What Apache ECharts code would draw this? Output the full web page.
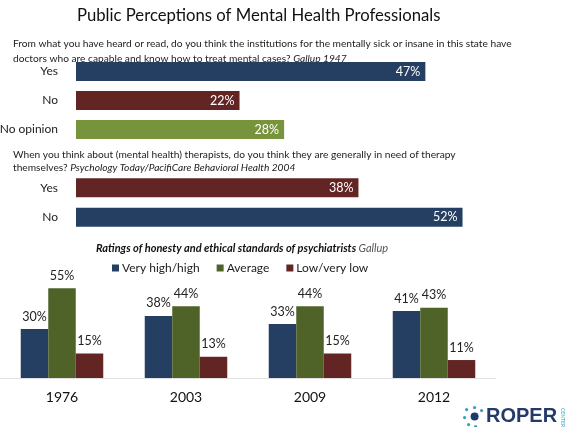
<!DOCTYPE html>
<html><head><meta charset="utf-8">
<script src="https://cdn.jsdelivr.net/npm/echarts@6/dist/echarts.min.js"></script>
<style>html,body{margin:0;padding:0;background:#fff}#c{width:570px;height:427px}</style>
</head><body><div id="c"></div>
<script>
const q1Categories = ['Yes', 'No', 'No opinion'];
const q1Values = [47, 22, 28];
const q2Categories = ['Yes', 'No'];
const q2Values = [38, 52];
const years = ['1976', '2003', '2009', '2012'];
const veryHigh = [30, 38, 33, 41];
const average = [55, 44, 44, 43];
const lowVeryLow = [15, 13, 15, 11];
const seriesNames = ['Very high/high', 'Average', 'Low/very low'];

const NAVY = '#253f63', RED = '#632523', LGREEN = '#77933c', DGREEN = '#4f6228';
const q1Colors = [NAVY, RED, LGREEN];
const q2Colors = [RED, NAVY];
const FONT = 'Lato';

const chart = echarts.init(document.getElementById('c'));
const pct = p => p.value + '%';
const hbarLabel = {show: true, position: 'insideRight', color: '#fff', fontSize: 12.5, fontFamily: FONT, formatter: pct, distance: 5};
const catAxis = (gi, data) => ({type: 'category', gridIndex: gi, data: data, inverse: true,
  axisLine: {show: false}, axisTick: {show: false},
  axisLabel: {fontSize: 12, fontFamily: FONT, color: '#222', margin: 18}});
const valAxis = gi => ({type: 'value', gridIndex: gi, min: 0, max: 60, show: false});
const sub = {a: {fontSize: 10.2, fontFamily: FONT, fill: '#222'}, i: {fontSize: 10.2, fontFamily: FONT, fontStyle: 'italic', fill: '#222'}};

chart.setOption({
  animation: false,
  textStyle: {fontFamily: FONT},
  title: {text: 'Public Perceptions of Mental Health Professionals', left: 77, top: 7, padding: 0,
    textStyle: {fontSize: 16.7, fontWeight: 'normal', color: '#111', fontFamily: FONT}},
  graphic: [
    {type: 'text', left: 13, top: 36, style: {rich: sub, lineHeight: 15,
      text: '{a|From what you have heard or read, do you think the institutions for the mentally sick or insane in this state have}\n{a|doctors who are capable and know how to treat mental cases? }{i|Gallup 1947}'}},
    {type: 'text', left: 13, top: 148, style: {rich: sub, lineHeight: 13,
      text: '{a|When you think about (mental health) therapists, do you think they are generally in need of therapy}\n{a|themselves? }{i|Psychology Today/PacifiCare Behavioral Health 2004}'}},
    {type: 'text', left: 96, top: 243, style: {rich: {b: {fontSize: 11, fontFamily: FONT, fontStyle: 'italic', fontWeight: 'bold', fill: '#111'}, g: {fontSize: 11, fontFamily: FONT, fontStyle: 'italic', fill: '#555'}},
      text: '{b|Ratings of honesty and ethical standards of psychiatrists }{g|Gallup}'}},
    {type: 'text', left: 486, top: 406, style: {text: 'ROPER', fontSize: 20, fontWeight: 'bold', fontFamily: 'Liberation Sans', fill: '#253a6b'}},
    {type: 'text', left: 560, top: 408, rotation: -Math.PI / 2, style: {text: 'CENTER', fontSize: 5, fontFamily: FONT, fill: '#3aa0b8'}},
    {type: 'group', left: 463, top: 406, children: [
      {type: 'circle', shape: {cx: 12, cy: 10, r: 4}, style: {fill: '#1d3a6b'}},
      {type: 'circle', shape: {cx: 4, cy: 3, r: 1.6}, style: {fill: '#3aa0b8'}},
      {type: 'circle', shape: {cx: 12, cy: 1, r: 1.6}, style: {fill: '#3aa0b8'}},
      {type: 'circle', shape: {cx: 19, cy: 4, r: 1.6}, style: {fill: '#3aa0b8'}},
      {type: 'circle', shape: {cx: 2, cy: 11, r: 1.6}, style: {fill: '#3aa0b8'}},
      {type: 'circle', shape: {cx: 6, cy: 18, r: 1.6}, style: {fill: '#3aa0b8'}},
      {type: 'circle', shape: {cx: 13, cy: 20, r: 1.6}, style: {fill: '#3aa0b8'}}
    ]}
  ],
  legend: {top: 262, left: 112, padding: 0, itemWidth: 7, itemHeight: 7, itemGap: 17, icon: 'rect',
    data: seriesNames, textStyle: {fontSize: 12, fontFamily: FONT, color: '#222', padding: [0, 0, 0, -2]}},
  grid: [
    {left: 76, width: 446, top: 57, height: 87, outerBoundsMode: 'none', containLabel: false},
    {left: 76, width: 446, top: 173, height: 59, outerBoundsMode: 'none', containLabel: false},
    {left: 0, width: 496, top: 280, height: 98, outerBoundsMode: 'none', containLabel: false}
  ],
  xAxis: [
    valAxis(0), valAxis(1),
    {type: 'category', gridIndex: 2, data: years, axisLine: {show: true, lineStyle: {color: '#e0e0e0'}}, axisTick: {show: false},
      axisLabel: {fontSize: 14, fontFamily: FONT, color: '#111', margin: 12}}
  ],
  yAxis: [
    catAxis(0, q1Categories), catAxis(1, q2Categories),
    {type: 'value', gridIndex: 2, min: 0, max: 60, show: false}
  ],
  series: [
    {type: 'bar', xAxisIndex: 0, yAxisIndex: 0, barWidth: 19,
      data: q1Values.map((v, i) => ({value: v, itemStyle: {color: q1Colors[i]}})), label: hbarLabel},
    {type: 'bar', xAxisIndex: 1, yAxisIndex: 1, barWidth: 19,
      data: q2Values.map((v, i) => ({value: v, itemStyle: {color: q2Colors[i]}})), label: hbarLabel},
    ...[[veryHigh, NAVY], [average, DGREEN], [lowVeryLow, RED]].map((s, k) => ({
      type: 'bar', name: seriesNames[k], xAxisIndex: 2, yAxisIndex: 2, data: s[0], barWidth: 27.5, barGap: '0%',
      itemStyle: {color: s[1]},
      label: {show: true, position: 'top', fontSize: 12.5, fontFamily: FONT, color: '#222', formatter: pct, distance: 6}
    }))
  ]
});
</script></body></html>
